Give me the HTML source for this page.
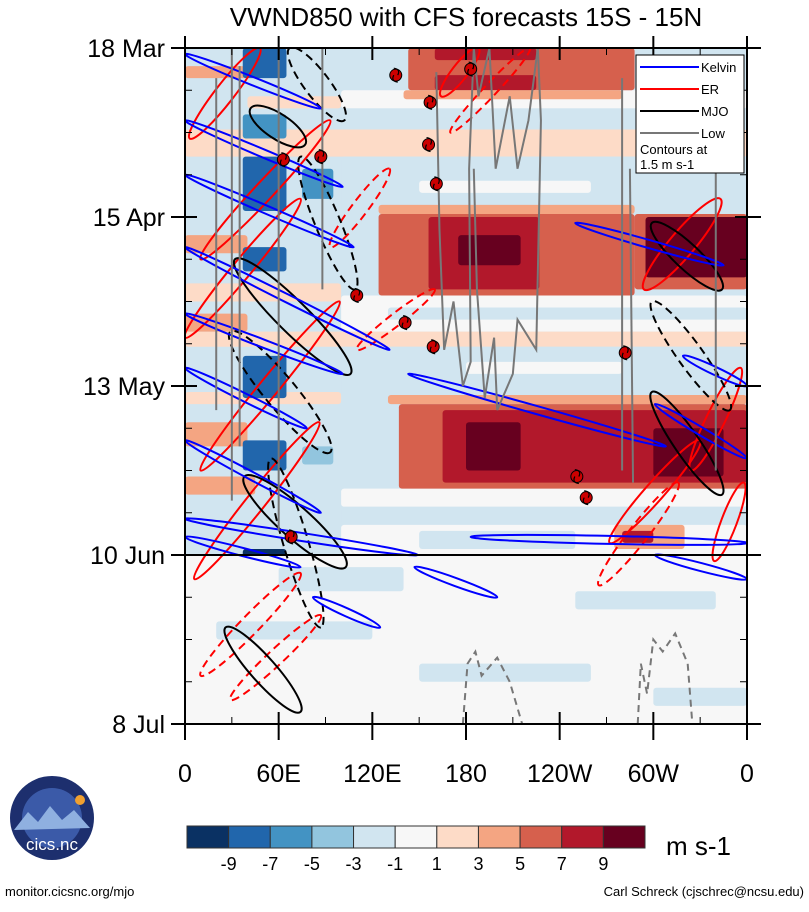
<!DOCTYPE html>
<html><head><meta charset="utf-8"><style>
html,body{margin:0;padding:0;background:#fff;}
body{width:809px;height:907px;overflow:hidden;font-family:"Liberation Sans",sans-serif;}
</style></head><body>
<svg id="chart" width="809" height="907" xmlns="http://www.w3.org/2000/svg" font-family="Liberation Sans, sans-serif">
<defs><clipPath id="pc"><rect x="185" y="48" width="562" height="676"/></clipPath></defs>
<text x="466" y="26" font-size="26" text-anchor="middle">VWND850 with CFS forecasts  15S - 15N</text>
<g id="heat" clip-path="url(#pc)"></g>
<g id="cont" clip-path="url(#pc)"></g>
<g id="axes"></g>
<g>
<rect x="636" y="55" width="108" height="118" fill="#fff" stroke="#000" stroke-width="1"/>
<line x1="640" y1="67" x2="699" y2="67" stroke="#0000ff" stroke-width="2"/><text x="701" y="72" font-size="13">Kelvin</text>
<line x1="640" y1="89" x2="699" y2="89" stroke="#ff0000" stroke-width="2"/><text x="701" y="94" font-size="13">ER</text>
<line x1="640" y1="111" x2="699" y2="111" stroke="#000" stroke-width="2"/><text x="701" y="116" font-size="13">MJO</text>
<line x1="640" y1="133" x2="699" y2="133" stroke="#777" stroke-width="2"/><text x="701" y="138" font-size="13">Low</text>
<text x="640" y="154" font-size="13">Contours at</text><text x="640" y="169" font-size="13">1.5 m s-1</text>
</g>
<g id="cbar"></g>
<text x="666" y="855" font-size="26">m s-1</text>
<g>
<circle cx="52" cy="818" r="42" fill="#1d2f6e"/>
<circle cx="52" cy="818" r="30" fill="#3b5aa8"/>
<path d="M14 830 L28 812 L38 822 L50 806 L62 820 L74 810 L90 828 Z" fill="#8fb0e0"/>
<circle cx="80" cy="800" r="5" fill="#f0a030"/>
<text x="52" y="850" font-size="17" fill="#fff" text-anchor="middle">cics.nc</text>
</g>
<text x="5" y="896" font-size="13">monitor.cicsnc.org/mjo</text>
<text x="804" y="896" font-size="13" text-anchor="end">Carl Schreck (cjschrec@ncsu.edu)</text>
</svg>
<script>
// ---- data ----
const dateLabels=["18 Mar","15 Apr","13 May","10 Jun","8 Jul"];
const dateTickDays=[0,28,56,84,112];
const lonLabels=["0","60E","120E","180","120W","60W","0"];
const lonTicks=[0,60,120,180,240,300,360];
const cbLevels=[-9,-7,-5,-3,-1,1,3,5,7,9];
const cbColors=["#0a3163","#2166ac","#4393c3","#92c5de","#d1e5f0","#f7f7f7","#fddbc7","#f4a582","#d6604d","#b2182b","#67001f"];
// anomaly patches: [dayStart, dayEnd, lonStart, lonEnd, value]
const patches=[
[0,84,0,360,-2],
[7,10,100,360,0],[10,13.5,100,360,-2],[13.5,18,0,360,2],[18,27,100,360,-2],[22,24,150,260,0],
[41,47,100,360,0],[43,45,130,360,-2],[47,49.5,0,360,2],[49.5,59,100,360,-2],[52,54,180,280,0],
[73,76,100,360,0],[76,79,100,360,-2],[79,84,100,360,0],[80,83,150,250,-2],
[3,5,0,40,4],[31,34,0,40,4],[44,47,0,40,4],[62,66,0,40,4],[71,74,0,45,4],[8,10,40,100,2],[39,42,0,100,2],[57,59,0,100,2],
[0,7,143,288,6],[0,2,160,225,8],[4.5,7,160,225,8],[7,8.5,140,280,3],
[26,27.5,124,288,3],[27.5,41,124,288,6],[28,40,156,227,8],[31,36,175,215,10],[27.5,40,288,360,6],[28,38,295,360,9],
[57.5,59,130,360,3],[59,73,137,360,6],[60,72,165,360,8],[62,70,180,215,10],[63,71,300,345,10],
[79,83,275,320,4],[80,82,280,300,8],
[0,5,37,65,-8],[11,15,37,65,-6],[18,27,37,65,-9],[20,25,75,95,-6],[33,37,37,65,-8],[51,58,37,65,-9],[65,70,37,65,-8],[66,69,75,95,-5],[83,90,37,65,-10],
[84,112,0,360,0],[86,90,60,140,-2],[95,98,20,120,-2],[102,105,150,260,-2],[90,93,250,340,-2],[106,109,300,360,-2]
];
// contour ellipses: [lon1, day1, lon2, day2, halfWidthDeg, type, dashed]
const ellipses=[
[3,15,48,0,6,"er",0],[10,35,93,12,6,"er",0],[0,48,74,25,6,"er",0],[10,70,99,42,6,"er",0],[6,88,86,62,6,"er",0],
[164,8,188,0,5,"er",0],[294,40,343,25,8,"er",0],[324,70,356,53,6,"er",0],[272,82,330,65,6,"er",0],[339,85,358,72,5,"er",0],
[93,33,131,20,5,"er",1],[170,14,221,0,4,"er",1],[265,89,316,72,6,"er",1],[10,104,74,87,6,"er",1],[29,108,87,94,5,"er",1],[110,50,160,40,4,"er",1],
[42,10,77,16,8,"mjo",0],[32,35,106,54,10,"mjo",0],[38,71,103,86,10,"mjo",0],[26,96,74,110,8,"mjo",0],[299,57,344,74,8,"mjo",0],[299,29,344,40,8,"mjo",0],
[67,0,102,12,8,"mjo",1],[74,18,109,40,8,"mjo",1],[29,47,93,67,10,"mjo",1],[55,68,87,96,8,"mjo",1],[299,42,349,60,8,"mjo",1]
];
// Kelvin bands: [lon1, day1, lon2, day2]
const kelvins=[
[0,1,87,10],[0,12,101,23],[0,21,108,33],[0,33,131,50],[0,44,101,54],[0,53,78,63],[0,65,87,77],[0,78,149,84],
[143,54,308,66],[250,29,345,36],[319,51,360,56],[301,59,360,68],[301,84,360,88],[147,86,200,91],[0,81,74,86],[82,91,125,96],[183,81,360,82]
];
// Low-frequency lines: [lon, day] polylines
const lows=[
[[161,4],[163,30],[166,50],[172,42],[178,56],[183,52],[182,20],[185,0]],
[[185,0],[188,8],[195,0],[199,20],[208,8],[213,20],[220,12],[226,0]],
[[226,0],[228,12],[225,50],[213,45],[210,54],[200,60],[198,48],[192,58],[187,40],[185,20]],
[[20,5],[20,60]],[[30,0],[30,75]],[[35,3],[35,66]],[[60,0],[60,80]],[[88,0],[88,40]],
[[280,5],[280,70]],[[285,20],[287,72]],[[340,10],[340,70]]
];
const lowsDashed=[
[[178,112],[181,102],[186,100],[190,104],[200,101],[208,105],[216,112]],
[[290,112],[292,102],[296,107],[300,98],[306,100],[314,97],[322,102],[325,112]]
];
// tropical cyclones: [lon, day]
const storms=[[135,4.5],[157,9],[183,3.5],[156,16],[161,22.5],[63,18.5],[87,18],[110,41],[141,45.5],[159,49.5],[282,50.5],[251,71],[257,74.5],[68,81]];

// ---- scales ----
const X0=185,X1=747,Y0=48,Y1=724;
const xS=l=>X0+l*(X1-X0)/360;
const yS=d=>Y0+d*(Y1-Y0)/112;
const NS="http://www.w3.org/2000/svg";
function mk(t,a,p){const e=document.createElementNS(NS,t);for(const k in a)e.setAttribute(k,a[k]);p.appendChild(e);return e;}
function col(v){let i=0;while(i<cbLevels.length&&v>=cbLevels[i])i++;return cbColors[i];}

const heat=document.getElementById('heat');
mk('rect',{x:X0,y:Y0,width:X1-X0,height:Y1-Y0,fill:"#f7f7f7"},heat);
patches.forEach(p=>{
 const r=mk('rect',{x:xS(p[2]),y:yS(p[0]),width:xS(p[3])-xS(p[2]),height:yS(p[1])-yS(p[0]),fill:col(p[4]),rx:3},heat);
 
 
});

const cont=document.getElementById('cont');
const colors={er:"#ff0000",mjo:"#000000"};
ellipses.forEach(e=>{
 const x1=xS(e[0]),y1=yS(e[1]),x2=xS(e[2]),y2=yS(e[3]);
 const cx=(x1+x2)/2,cy=(y1+y2)/2,len=Math.hypot(x2-x1,y2-y1)/2,ang=Math.atan2(y2-y1,x2-x1)*180/Math.PI;
 const el=mk('ellipse',{cx:cx,cy:cy,rx:len,ry:e[4]*1.561,transform:`rotate(${ang} ${cx} ${cy})`,fill:"none",stroke:colors[e[5]],"stroke-width":2,"stroke-dasharray":e[6]?"8 5":"none"},cont);
 
 
});
kelvins.forEach(k=>{
 const x1=xS(k[0]),y1=yS(k[1]),x2=xS(k[2]),y2=yS(k[3]);
 const cx=(x1+x2)/2,cy=(y1+y2)/2,len=Math.hypot(x2-x1,y2-y1)/2,ang=Math.atan2(y2-y1,x2-x1)*180/Math.PI;
 const el=mk('ellipse',{cx:cx,cy:cy,rx:len,ry:4,transform:`rotate(${ang} ${cx} ${cy})`,fill:"none",stroke:"#0000ff","stroke-width":2},cont);
 
 
});
lows.forEach(l=>{
 const el=mk('polyline',{points:l.map(p=>xS(p[0])+","+yS(p[1])).join(" "),fill:"none",stroke:"#777","stroke-width":2},cont);
 
 
});
lowsDashed.forEach(l=>{
 const el=mk('polyline',{points:l.map(p=>xS(p[0])+","+yS(p[1])).join(" "),fill:"none",stroke:"#777","stroke-width":2,"stroke-dasharray":"7 5"},cont);
 
 
});
storms.forEach(s=>{
 const g=mk('g',{},cont);
 
 
 const x=xS(s[0]),y=yS(s[1]);
 mk('circle',{cx:x,cy:y,r:6,fill:"#cc0000",stroke:"#000","stroke-width":1},g);
 mk('path',{d:`M${x-2} ${y-7} Q${x+5} ${y-6} ${x+2} ${y} M${x+2} ${y+7} Q${x-5} ${y+6} ${x-2} ${y}`,fill:"none",stroke:"#000","stroke-width":1.2},g);
});
mk('line',{x1:X0,y1:yS(84),x2:X1,y2:yS(84),stroke:"#000","stroke-width":2},cont);

const ax=document.getElementById('axes');
mk('rect',{x:X0,y:Y0,width:X1-X0,height:Y1-Y0,fill:"none",stroke:"#000","stroke-width":2},ax);
for(let d=0;d<=112;d+=7){
 const maj=dateTickDays.includes(d);
 mk('line',{x1:X0-(maj?14:0),y1:yS(d),x2:X0+(maj?12:7),y2:yS(d),stroke:"#000","stroke-width":maj?2:1},ax);
 mk('line',{x1:X1+(maj?14:0),y1:yS(d),x2:X1-(maj?12:7),y2:yS(d),stroke:"#000","stroke-width":maj?2:1},ax);
}
dateTickDays.forEach((d,i)=>{
 const t=mk('text',{x:X0-20,y:yS(d)+9,"font-size":25,"text-anchor":"end"},ax);t.textContent=dateLabels[i];
 
 
});
for(let l=0;l<=360;l+=30){
 const maj=lonTicks.includes(l);
 mk('line',{x1:xS(l),y1:Y1+(maj?16:0),x2:xS(l),y2:Y1-(maj?12:7),stroke:"#000","stroke-width":maj?2:1},ax);
 mk('line',{x1:xS(l),y1:Y0-(maj?12:0),x2:xS(l),y2:Y0+(maj?12:7),stroke:"#000","stroke-width":maj?2:1},ax);
}
lonTicks.forEach((l,i)=>{
 const t=mk('text',{x:xS(l),y:Y1+58,"font-size":25,"text-anchor":"middle"},ax);t.textContent=lonLabels[i];
 
 
});

const cb=document.getElementById('cbar');
const bw=(645-187)/cbColors.length;
cbColors.forEach((c,i)=>{
 const r=mk('rect',{x:187+i*bw,y:826,width:bw,height:22,fill:c,stroke:"#333","stroke-width":1},cb);
 
 
});
cbLevels.forEach((v,i)=>{
 const t=mk('text',{x:187+(i+1)*bw,y:870,"font-size":18,"text-anchor":"middle"},cb);t.textContent=v;
 
 
});
</script>
</body></html>
